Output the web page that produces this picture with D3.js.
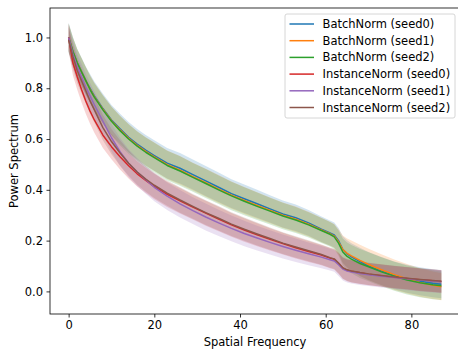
<!DOCTYPE html>
<html>
<head>
<meta charset="utf-8">
<script src="https://cdn.jsdelivr.net/npm/d3@7"></script>
<style>
  body { margin: 0; background: #fff; }
  svg { display: block; font-family: "DejaVu Sans", sans-serif; }
</style>
</head>
<body>
<div id="chart"></div>
<script>
'use strict';

// spatial frequency samples
var freqs = [0, 1, 2, 3, 4, 5, 6, 8, 10, 12, 14, 16, 18, 20, 23, 26, 29, 32, 35, 38, 41, 44, 47, 50, 53, 56, 59, 61, 62, 63, 64, 65, 66, 68, 70, 73, 76, 79, 82, 85, 87];

var seriesNames = ['BatchNorm (seed0)', 'BatchNorm (seed1)', 'BatchNorm (seed2)',
                   'InstanceNorm (seed0)', 'InstanceNorm (seed1)', 'InstanceNorm (seed2)'];
var seriesColors = ['#1f77b4', '#ff7f0e', '#2ca02c', '#d62728', '#9467bd', '#8c564b'];

// mean power spectrum per run
var bnSeed0 = [1.0, 0.945, 0.90, 0.865, 0.83, 0.80, 0.77, 0.72, 0.675, 0.64, 0.607, 0.58, 0.556, 0.535, 0.505, 0.485, 0.46, 0.435, 0.41, 0.385, 0.365, 0.345, 0.325, 0.305, 0.29, 0.27, 0.245, 0.23, 0.222, 0.20, 0.165, 0.148, 0.136, 0.117, 0.10, 0.08, 0.063, 0.05, 0.04, 0.032, 0.028];
var bnSeed1 = [1.0, 0.945, 0.90, 0.865, 0.83, 0.797, 0.767, 0.717, 0.672, 0.636, 0.603, 0.575, 0.551, 0.53, 0.499, 0.477, 0.452, 0.428, 0.403, 0.379, 0.358, 0.338, 0.319, 0.30, 0.284, 0.265, 0.242, 0.227, 0.218, 0.195, 0.165, 0.15, 0.14, 0.122, 0.106, 0.085, 0.066, 0.05, 0.035, 0.024, 0.018];
var bnSeed2 = [1.0, 0.945, 0.90, 0.865, 0.83, 0.795, 0.765, 0.715, 0.67, 0.633, 0.60, 0.572, 0.548, 0.527, 0.496, 0.474, 0.449, 0.425, 0.40, 0.376, 0.355, 0.335, 0.316, 0.297, 0.281, 0.262, 0.24, 0.225, 0.215, 0.19, 0.155, 0.138, 0.127, 0.11, 0.097, 0.077, 0.06, 0.045, 0.034, 0.026, 0.022];
var inSeed0 = [1.0, 0.90, 0.845, 0.795, 0.75, 0.71, 0.675, 0.615, 0.57, 0.53, 0.495, 0.463, 0.437, 0.413, 0.382, 0.357, 0.332, 0.308, 0.285, 0.262, 0.242, 0.223, 0.205, 0.188, 0.172, 0.157, 0.143, 0.131, 0.126, 0.11, 0.091, 0.083, 0.079, 0.073, 0.068, 0.062, 0.056, 0.051, 0.046, 0.042, 0.039];
var inSeed1 = [1.0, 0.935, 0.885, 0.845, 0.805, 0.77, 0.735, 0.67, 0.605, 0.55, 0.505, 0.47, 0.44, 0.41, 0.375, 0.345, 0.318, 0.293, 0.27, 0.248, 0.228, 0.21, 0.193, 0.177, 0.162, 0.148, 0.135, 0.125, 0.12, 0.105, 0.088, 0.08, 0.076, 0.07, 0.066, 0.06, 0.055, 0.05, 0.045, 0.041, 0.038];
var inSeed2 = [0.99, 0.925, 0.87, 0.83, 0.79, 0.75, 0.715, 0.645, 0.59, 0.545, 0.505, 0.47, 0.442, 0.418, 0.387, 0.36, 0.335, 0.31, 0.288, 0.265, 0.245, 0.226, 0.208, 0.19, 0.175, 0.16, 0.145, 0.133, 0.128, 0.112, 0.093, 0.085, 0.08, 0.074, 0.069, 0.063, 0.057, 0.052, 0.047, 0.043, 0.04];

// spread (std) per run
var bnStd0 = [0.058, 0.057, 0.056, 0.056, 0.056, 0.056, 0.057, 0.058, 0.059, 0.06, 0.06, 0.06, 0.06, 0.06, 0.06, 0.06, 0.059, 0.059, 0.058, 0.057, 0.056, 0.055, 0.054, 0.053, 0.052, 0.051, 0.05, 0.049, 0.049, 0.05, 0.052, 0.053, 0.054, 0.055, 0.055, 0.055, 0.055, 0.055, 0.055, 0.055, 0.055];
var bnStd1 = [0.055, 0.054, 0.054, 0.054, 0.054, 0.054, 0.055, 0.055, 0.056, 0.056, 0.056, 0.056, 0.056, 0.056, 0.056, 0.056, 0.055, 0.055, 0.055, 0.054, 0.053, 0.052, 0.051, 0.05, 0.05, 0.049, 0.048, 0.047, 0.047, 0.05, 0.055, 0.058, 0.06, 0.062, 0.062, 0.061, 0.06, 0.058, 0.056, 0.054, 0.053];
var bnStd2 = [0.055, 0.054, 0.054, 0.054, 0.054, 0.054, 0.055, 0.056, 0.057, 0.058, 0.058, 0.058, 0.058, 0.058, 0.058, 0.058, 0.057, 0.057, 0.056, 0.056, 0.055, 0.054, 0.053, 0.052, 0.051, 0.05, 0.049, 0.048, 0.048, 0.05, 0.053, 0.055, 0.056, 0.057, 0.057, 0.057, 0.057, 0.057, 0.057, 0.057, 0.056];
var inStd0 = [0.05, 0.05, 0.05, 0.05, 0.05, 0.05, 0.05, 0.05, 0.05, 0.05, 0.05, 0.05, 0.05, 0.05, 0.05, 0.05, 0.049, 0.049, 0.048, 0.047, 0.046, 0.045, 0.044, 0.043, 0.042, 0.041, 0.04, 0.04, 0.04, 0.041, 0.042, 0.043, 0.044, 0.044, 0.044, 0.044, 0.044, 0.044, 0.044, 0.044, 0.044];
var inStd1 = [0.052, 0.052, 0.052, 0.052, 0.052, 0.052, 0.053, 0.054, 0.055, 0.055, 0.055, 0.055, 0.055, 0.055, 0.054, 0.054, 0.053, 0.053, 0.052, 0.051, 0.05, 0.049, 0.048, 0.047, 0.046, 0.045, 0.044, 0.043, 0.043, 0.044, 0.045, 0.045, 0.045, 0.045, 0.045, 0.045, 0.045, 0.045, 0.045, 0.045, 0.045];
var inStd2 = [0.05, 0.05, 0.05, 0.05, 0.05, 0.05, 0.05, 0.05, 0.05, 0.05, 0.05, 0.05, 0.05, 0.05, 0.05, 0.05, 0.049, 0.049, 0.048, 0.047, 0.046, 0.045, 0.044, 0.043, 0.042, 0.041, 0.04, 0.04, 0.04, 0.041, 0.042, 0.043, 0.044, 0.044, 0.044, 0.044, 0.044, 0.044, 0.044, 0.044, 0.044];

var xTicks = [0, 20, 40, 60, 80];
var yTicks = [0.0, 0.2, 0.4, 0.6, 0.8, 1.0];

var means = [bnSeed0, bnSeed1, bnSeed2, inSeed0, inSeed1, inSeed2];
var stds = [bnStd0, bnStd1, bnStd2, inStd0, inStd1, inStd2];

var series = seriesNames.map(function(name, i) {
  return {
    name: name,
    color: seriesColors[i],
    values: freqs.map(function(f, j) {
      return {x: f, y: means[i][j], lo: means[i][j] - stds[i][j], hi: means[i][j] + stds[i][j]};
    })
  };
});

// Chart dimensions
var width = 458, height = 349;
var margin = {top: 8, right: -2, bottom: 35, left: 50};
var plotW = width - margin.left - margin.right;
var plotH = height - margin.top - margin.bottom;
var fontSize = 11.5;

var svg = d3.select('#chart').append('svg')
  .attr('width', width)
  .attr('height', height);

var x = d3.scaleLinear().domain([-4.35, 91.35]).range([margin.left, margin.left + plotW]);
var y = d3.scaleLinear().domain([-0.089, 1.116]).range([margin.top + plotH, margin.top]);

var plot = svg.append('g');

var area = d3.area()
  .x(function(d) { return x(d.x); })
  .y0(function(d) { return y(d.lo); })
  .y1(function(d) { return y(d.hi); });

var line = d3.line()
  .x(function(d) { return x(d.x); })
  .y(function(d) { return y(d.y); });

// bands first, lines on top (like matplotlib zorder)
plot.selectAll('.band')
  .data(series)
  .enter().append('path')
  .attr('class', 'band')
  .attr('d', function(d) { return area(d.values); })
  .attr('fill', function(d) { return d.color; })
  .attr('fill-opacity', 0.2);

plot.selectAll('.line')
  .data(series)
  .enter().append('path')
  .attr('class', 'line')
  .attr('d', function(d) { return line(d.values); })
  .attr('fill', 'none')
  .attr('stroke', function(d) { return d.color; })
  .attr('stroke-width', 1.5)
  .attr('stroke-linejoin', 'round');

// axes
var xAxis = svg.append('g')
  .attr('transform', 'translate(0,' + (margin.top + plotH) + ')')
  .call(d3.axisBottom(x).tickValues(xTicks).tickSize(3.5).tickPadding(3.5).tickFormat(d3.format('d')));

var yAxis = svg.append('g')
  .attr('transform', 'translate(' + margin.left + ',0)')
  .call(d3.axisLeft(y).tickValues(yTicks).tickSize(3.5).tickPadding(3.5).tickFormat(d3.format('.1f')));

[xAxis, yAxis].forEach(function(ax) {
  ax.select('.domain').remove();
  ax.selectAll('line').attr('stroke', '#000').attr('stroke-width', 0.8);
  ax.selectAll('text').attr('font-size', fontSize).attr('font-family', '"DejaVu Sans", sans-serif').attr('fill', '#000');
});

// frame
svg.append('rect')
  .attr('x', margin.left)
  .attr('y', margin.top)
  .attr('width', plotW)
  .attr('height', plotH)
  .attr('fill', 'none')
  .attr('stroke', '#000')
  .attr('stroke-width', 0.8);

svg.append('text')
  .attr('x', margin.left + plotW / 2)
  .attr('y', 345.5)
  .attr('text-anchor', 'middle')
  .attr('font-size', fontSize)
  .text('Spatial Frequency');

svg.append('text')
  .attr('transform', 'translate(17.5,' + (margin.top + plotH / 2) + ') rotate(-90)')
  .attr('text-anchor', 'middle')
  .attr('font-size', fontSize)
  .text('Power Spectrum');

// legend
var legend = svg.append('g').attr('transform', 'translate(285,14)');

legend.append('rect')
  .attr('width', 170)
  .attr('height', 104)
  .attr('rx', 2)
  .attr('fill', '#fff')
  .attr('fill-opacity', 0.8)
  .attr('stroke', '#cccccc')
  .attr('stroke-width', 0.8);

var items = legend.selectAll('.item')
  .data(series)
  .enter().append('g')
  .attr('class', 'item')
  .attr('transform', function(d, i) { return 'translate(0,' + (10 + i * 16.7) + ')'; });

items.append('line')
  .attr('x1', 4.5).attr('x2', 29)
  .attr('stroke', function(d) { return d.color; })
  .attr('stroke-width', 1.5);

items.append('text')
  .attr('x', 37.5)
  .attr('dy', '0.35em')
  .attr('font-size', fontSize)
  .text(function(d) { return d.name; });
</script>
</body>
</html>
